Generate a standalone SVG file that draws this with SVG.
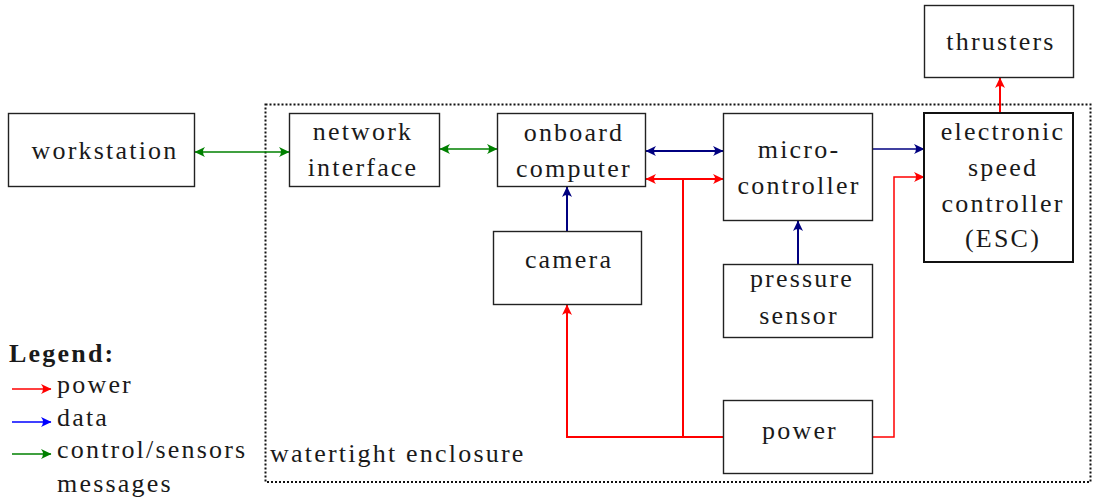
<svg xmlns="http://www.w3.org/2000/svg" width="1093" height="500" viewBox="0 0 1093 500">
<defs>
<style>
.box{fill:#fff;stroke:#222;stroke-width:1.4}
.esc{fill:#fff;stroke:#111;stroke-width:2}
.c{text-anchor:middle}
.r{stroke:#ff0000;fill:none}
.n{stroke:#000080;fill:none}
.g{stroke:#008000;fill:none}
</style>
<marker id="ar" viewBox="-11 -6 12 12" refX="0" refY="0" markerWidth="12" markerHeight="12" markerUnits="userSpaceOnUse" orient="auto-start-reverse"><path d="M0.5,0 L-10,-5 Q-6,0 -10,5 Z" fill="#ff0000"/></marker>
<marker id="an" viewBox="-11 -6 12 12" refX="0" refY="0" markerWidth="12" markerHeight="12" markerUnits="userSpaceOnUse" orient="auto-start-reverse"><path d="M0.5,0 L-10,-5 Q-6,0 -10,5 Z" fill="#000080"/></marker>
<marker id="ag" viewBox="-11 -6 12 12" refX="0" refY="0" markerWidth="12" markerHeight="12" markerUnits="userSpaceOnUse" orient="auto-start-reverse"><path d="M0.5,0 L-10,-5 Q-6,0 -10,5 Z" fill="#008000"/></marker>
<marker id="ab" viewBox="-11 -6 12 12" refX="0" refY="0" markerWidth="12" markerHeight="12" markerUnits="userSpaceOnUse" orient="auto-start-reverse"><path d="M0.5,0 L-10,-5 Q-6,0 -10,5 Z" fill="#0000ff"/></marker>
</defs>
<rect width="1093" height="500" fill="#fff"/>

<g font-size="26" letter-spacing="2.2" fill="#1a1a1a">
<g id="enclosure">
<rect x="265.5" y="104.5" width="825" height="377.5" fill="none" stroke="#111" stroke-width="2" stroke-dasharray="2 2"/>
<text font-family="Liberation Serif" x="270" y="462">watertight enclosure</text>
</g>

<g id="connectors">
<line class="g" x1="195" y1="152" x2="289" y2="152" stroke-width="1.3" marker-start="url(#ag)" marker-end="url(#ag)"/>
<line class="g" x1="440" y1="149" x2="497" y2="149" stroke-width="1.6" marker-start="url(#ag)" marker-end="url(#ag)"/>
<line class="n" x1="646" y1="151" x2="723" y2="151" stroke-width="2" marker-start="url(#an)" marker-end="url(#an)"/>
<line class="r" x1="646" y1="179" x2="723" y2="179" stroke-width="2" marker-start="url(#ar)" marker-end="url(#ar)"/>
<line class="n" x1="567" y1="231" x2="567" y2="187" stroke-width="2" marker-end="url(#an)"/>
<line class="n" x1="873" y1="149" x2="924" y2="149" stroke-width="1.4" marker-end="url(#an)"/>
<line class="n" x1="798" y1="264" x2="798" y2="221" stroke-width="2" marker-end="url(#an)"/>
<line class="r" x1="1000" y1="113" x2="1000" y2="78" stroke-width="2" marker-end="url(#ar)"/>
<polyline class="r" points="873,437 894,437 894,177 924,177" stroke-width="1.5" marker-end="url(#ar)"/>
<polyline class="r" points="723,437 567,437 567,305" stroke-width="2" marker-end="url(#ar)"/>
<line class="r" x1="683" y1="437" x2="683" y2="179" stroke-width="2"/>
</g>

<g id="workstation">
<rect class="box" x="8.5" y="113.5" width="186" height="73"/>
<text font-family="Liberation Serif" x="105" y="159" class="c">workstation</text>
</g>
<g id="network-interface">
<rect class="box" x="289.5" y="113.5" width="150" height="73"/>
<text font-family="Liberation Serif" x="363" y="140" class="c">network</text>
<text font-family="Liberation Serif" x="363" y="176" class="c">interface</text>
</g>
<g id="onboard-computer">
<rect class="box" x="497.5" y="113.5" width="148" height="73"/>
<text font-family="Liberation Serif" x="574" y="141" class="c">onboard</text>
<text font-family="Liberation Serif" x="574" y="177" class="c">computer</text>
</g>
<g id="micro-controller">
<rect class="box" x="723.5" y="113.5" width="149" height="107"/>
<text font-family="Liberation Serif" x="799" y="158" class="c">micro-</text>
<text font-family="Liberation Serif" x="799" y="194" class="c">controller</text>
</g>
<g id="esc">
<rect class="esc" x="924" y="113" width="149" height="149"/>
<text font-family="Liberation Serif" x="1003" y="140" class="c">electronic</text>
<text font-family="Liberation Serif" x="1003" y="176" class="c">speed</text>
<text font-family="Liberation Serif" x="1003" y="212" class="c">controller</text>
<text font-family="Liberation Serif" x="1003" y="247" class="c">(ESC)</text>
</g>
<g id="thrusters">
<rect class="box" x="924.5" y="5.5" width="149" height="72"/>
<text font-family="Liberation Serif" x="1001" y="50" class="c">thrusters</text>
</g>
<g id="camera">
<rect class="box" x="493.5" y="231.5" width="148" height="73"/>
<text font-family="Liberation Serif" x="569" y="268" class="c">camera</text>
</g>
<g id="pressure-sensor">
<rect class="box" x="723.5" y="264.5" width="149" height="73"/>
<text font-family="Liberation Serif" x="802" y="287" class="c">pressure</text>
<text font-family="Liberation Serif" x="799" y="324" class="c">sensor</text>
</g>
<g id="power">
<rect class="box" x="723.5" y="400.5" width="149" height="73"/>
<text font-family="Liberation Serif" x="800" y="439" class="c">power</text>
</g>

<g id="legend">
<text font-family="Liberation Serif" x="9" y="362" font-weight="bold">Legend:</text>
<line x1="12" y1="389" x2="51" y2="389" stroke="#ff0000" stroke-width="1.3" marker-end="url(#ar)"/>
<text font-family="Liberation Serif" x="57" y="393">power</text>
<line x1="12" y1="422" x2="51" y2="422" stroke="#0000ff" stroke-width="1.3" marker-end="url(#ab)"/>
<text font-family="Liberation Serif" x="57" y="426">data</text>
<line x1="12" y1="454" x2="51" y2="454" stroke="#008000" stroke-width="1.3" marker-end="url(#ag)"/>
<text font-family="Liberation Serif" x="57" y="458">control/sensors</text>
<text font-family="Liberation Serif" x="57" y="492">messages</text>
</g>
</g>
</svg>
